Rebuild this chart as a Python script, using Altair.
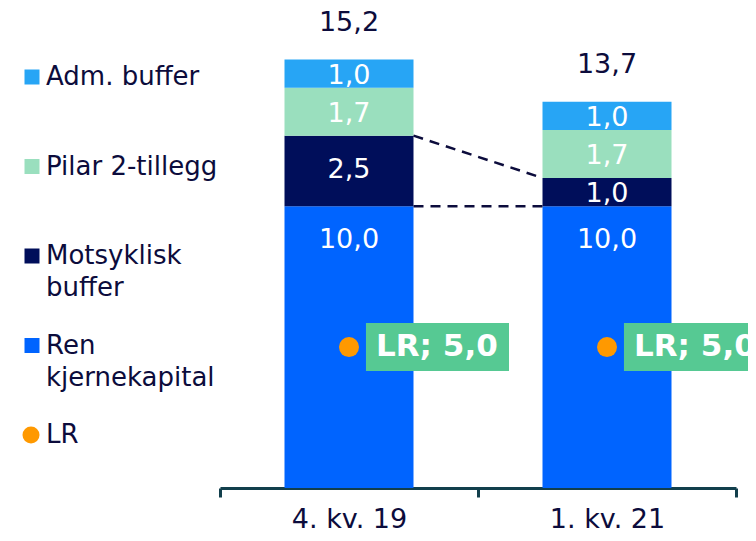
import altair as alt
import pandas as pd

# ---------------- data ----------------
categories = ["4. kv. 19", "1. kv. 21"]
ren_kjernekapital = [10.0, 10.0]
motsyklisk_buffer = [2.5, 1.0]
pilar2_tillegg = [1.7, 1.7]
adm_buffer = [1.0, 1.0]
totals = [15.2, 13.7]
lr_values = [5.0, 5.0]

series_names = ["Ren kjernekapital", "Motsyklisk buffer", "Pilar 2-tillegg", "Adm. buffer"]
legend_keys = ["Adm. buffer", "Pilar 2-tillegg", "Motsyklisk buffer", "Ren kjernekapital", "LR"]
legend_texts = ["Adm. buffer", "Pilar 2-tillegg", "Motsyklisk\nbuffer", "Ren\nkjernekapital", "LR"]

palette_domain = ["Ren kjernekapital", "Motsyklisk buffer", "Pilar 2-tillegg", "Adm. buffer", "LR"]
palette_range = ["#0064FF", "#000E5A", "#9ADFBE", "#27A5F5", "#FF9900"]

FONT = "DejaVu Sans"
NAVY = "#0C0C3C"
AXIS_COLOR = "#123F4C"
BOX_GREEN = "#56C993"


def fmt(v):
    return f"{v:.1f}".replace(".", ",")


series_values = [ren_kjernekapital, motsyklisk_buffer, pilar2_tillegg, adm_buffer]
rows = []
for i, cat in enumerate(categories):
    base = 0.0
    for name, vals in zip(series_names, series_values):
        v = vals[i]
        rows.append({"cat": cat, "series": name, "start": base, "end": base + v, "label": fmt(v)})
        base += v
seg = pd.DataFrame(rows)

tot = pd.DataFrame({"cat": categories, "total": totals, "label": [fmt(t) for t in totals]})
lrdf = pd.DataFrame({"cat": categories, "lr": lr_values, "series": ["LR"] * len(categories),
                     "label": ["LR; " + fmt(v) for v in lr_values]})

# dashed connectors: top of motsyklisk buffer and top of ren kjernekapital
mots_top = [r + m for r, m in zip(ren_kjernekapital, motsyklisk_buffer)]
lines = pd.DataFrame({
    "from": [categories[0], categories[0]],
    "to": [categories[1], categories[1]],
    "y1": [mots_top[0], ren_kjernekapital[0]],
    "y2": [mots_top[1], ren_kjernekapital[1]],
})

leg_df = pd.DataFrame({"key": legend_keys, "text": legend_texts})

# ---------------- encodings ----------------
x_scale = alt.Scale(domain=categories, paddingInner=0, paddingOuter=0)
x_axis = alt.Axis(title=None, labelAngle=0, domainColor=AXIS_COLOR, domainWidth=3,
                  tickColor=AXIS_COLOR, tickWidth=3, tickSize=9, tickBand="extent",
                  labelFont=FONT, labelFontSize=27, labelColor=NAVY, labelPadding=9, grid=False)
x_enc = alt.X("cat:N", sort=categories, scale=x_scale, axis=x_axis)
y_scale = alt.Scale(domain=[0, 16], nice=False, zero=True)
color_enc = alt.Color("series:N", scale=alt.Scale(domain=palette_domain, range=palette_range), legend=None)

bars = alt.Chart(seg).mark_bar(width=alt.RelativeBandSize(0.5)).encode(
    x=x_enc,
    y=alt.Y("start:Q", scale=y_scale, axis=None),
    y2="end:Q",
    color=color_enc,
)

seg_labels = alt.Chart(seg).transform_calculate(
    pos="max((datum.start + datum.end) / 2, datum.end - 1.135)"
).mark_text(color="white", font=FONT, fontSize=27, baseline="middle", dy=2).encode(
    x=x_enc,
    y=alt.Y("pos:Q", scale=y_scale, axis=None),
    text="label:N",
)

total_labels = alt.Chart(tot).mark_text(color=NAVY, font=FONT, fontSize=27, baseline="middle", dy=-37).encode(
    x=x_enc,
    y=alt.Y("total:Q", scale=y_scale, axis=None),
    text="label:N",
)

dashes = alt.Chart(lines).mark_rule(color=NAVY, strokeWidth=2.5, strokeDash=[10, 7]).encode(
    x=alt.X("from:N", bandPosition=0.75, scale=x_scale, axis=x_axis),
    x2=alt.X2(field="to", bandPosition=0.25),
    y=alt.Y("y1:Q", scale=y_scale, axis=None),
    y2="y2:Q",
)

BOX_PATH = "M0.106,-0.15 L1,-0.15 L1,0.15 L0.106,0.15 Z"
lr_box = alt.Chart(lrdf).mark_point(shape=BOX_PATH, size=102400, filled=True, fill=BOX_GREEN,
                                    opacity=1, strokeWidth=0).encode(
    x=x_enc,
    y=alt.Y("lr:Q", scale=y_scale, axis=None),
)

lr_dot = alt.Chart(lrdf).mark_circle(size=400, opacity=1).encode(
    x=x_enc,
    y=alt.Y("lr:Q", scale=y_scale, axis=None),
    color=color_enc,
)

lr_text = alt.Chart(lrdf).mark_text(align="left", baseline="middle", dx=27, font=FONT, fontSize=31,
                                    fontWeight="bold", color="white").encode(
    x=x_enc,
    y=alt.Y("lr:Q", scale=y_scale, axis=None),
    text="label:N",
)

main = alt.layer(bars, dashes, seg_labels, total_labels, lr_box, lr_dot, lr_text)

# ---------------- legend (left) ----------------
leg_y = alt.Y("key:N", sort=legend_keys,
              scale=alt.Scale(type="point", domain=legend_keys, range=[40, 398], padding=0), axis=None)
leg_color = alt.Color("key:N", scale=alt.Scale(domain=palette_domain, range=palette_range), legend=None)

leg_squares = alt.Chart(leg_df).transform_filter("datum.key != 'LR'").mark_square(size=225, opacity=1).encode(
    x=alt.value(-188), y=leg_y, color=leg_color)
leg_circle = alt.Chart(leg_df).transform_filter("datum.key == 'LR'").mark_circle(size=290, opacity=1).encode(
    x=alt.value(-189), y=leg_y, color=leg_color)
leg_text = alt.Chart(leg_df).mark_text(align="left", baseline="top", dy=-13, lineBreak="\n", lineHeight=32,
                                       font=FONT, fontSize=26, color=NAVY).encode(
    x=alt.value(-174), y=leg_y, text="text:N")

legend_layer = alt.layer(leg_squares, leg_circle, leg_text)

chart = alt.layer(main, legend_layer).resolve_scale(y="independent").properties(
    width=516,
    height=451,
    autosize=alt.AutoSizeParams(type="none"),
    padding={"left": 212, "top": 29, "right": 12, "bottom": 45},
).configure(font=FONT).configure_view(stroke=None)

chart.save("out.html", embed_options={"renderer": "svg", "actions": False})
